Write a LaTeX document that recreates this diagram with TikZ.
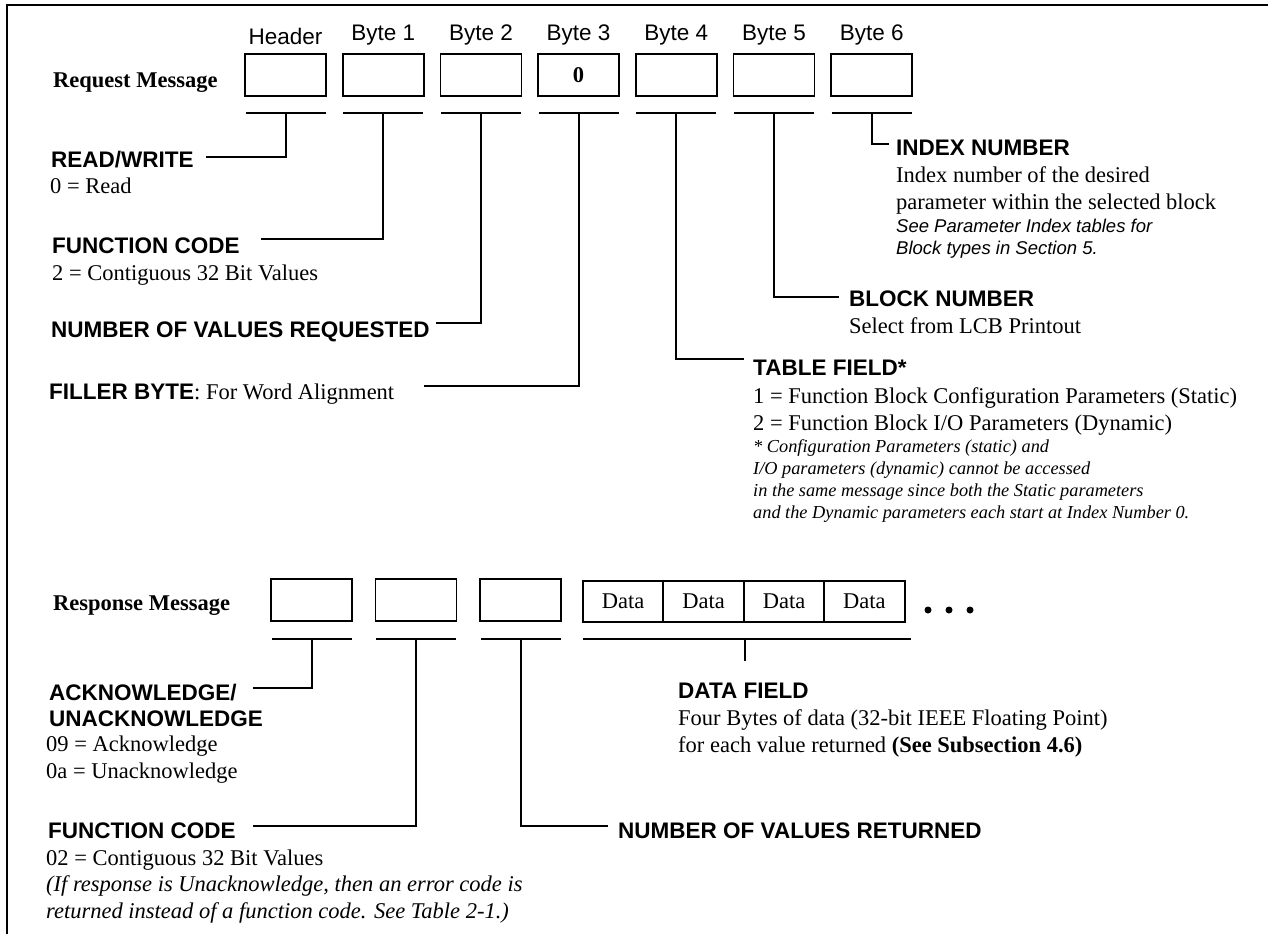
\documentclass[tikz,border=0pt]{standalone}
\usepackage{fontspec}
\setmainfont{Liberation Serif}
\setsansfont{Liberation Sans}
\usetikzlibrary{positioning}
\tikzset{cell/.style={draw,line width=1.8pt,minimum width=81pt,minimum height=42pt,inner sep=0pt},
dcell/.style={draw,line width=1.8pt,minimum width=80.5pt,minimum height=41pt,inner sep=0pt,font=\fontsize{22.5}{26}\selectfont},
lab/.style={font=\fontsize{22.5}{26}\selectfont\sffamily,inner sep=0pt,anchor=base},
msg/.style={font=\fontsize{22.5}{26}\selectfont\bfseries,inner sep=0pt,anchor=base west},
head/.style={font=\fontsize{22.5}{26}\selectfont\sffamily\bfseries,inner sep=0pt,anchor=base west},
body/.style={font=\fontsize{22.5}{26.5}\selectfont,inner sep=0pt,anchor=base west,align=left},
note/.style={font=\fontsize{18.3}{21.7}\selectfont\itshape,inner sep=0pt,anchor=base west,align=left},
snote/.style={font=\fontsize{18.5}{22}\selectfont\sffamily\itshape,inner sep=0pt,anchor=base west,align=left},
bar/.style={line width=2.5pt},
wire/.style={line width=2pt}}

\begin{document}
\begin{tikzpicture}[x=1pt,y=-1pt]
\useasboundingbox (0,0) rectangle (1268,934);
\draw[line width=2.5pt] (7,934) -- (7,5) -- (1268,5);

% request message
\node[msg] (rq) at (53,88) {Request Message};
\foreach \i/\t/\y in {0/Header/45,1/Byte 1/41,2/Byte 2/41,3/Byte 3/41,4/Byte 4/41,5/Byte 5/41,6/Byte 6/41}
{\node[cell] (q\i) at (285.5+97.7*\i,75) {};
\node[lab] (l\i) at (285.5+97.7*\i,\y) {\t};
\coordinate (t\i) at ([yshift=-16pt]q\i.south);
\draw[bar] ([xshift=-40pt]t\i) -- ([xshift=40pt]t\i);}
\node[font=\fontsize{22.5}{26}\selectfont\bfseries] (z) at (q3) {0};

% multi-line nodes sit on their last line
\node[head] (rw) at (51,167) {READ/WRITE};
\node[body] (rwb) at (50,193) {0 = Read};
\node[head] (fc) at (52,253) {FUNCTION CODE};
\node[body] (fcb) at (52,280) {2 = Contiguous 32 Bit Values};
\node[head] (nv) at (51,337) {NUMBER OF VALUES REQUESTED};
\node[body] (fb) at (49,399) {{\sffamily\bfseries FILLER BYTE}: For Word Alignment};

\node[head] (ix) at (896,155) {INDEX NUMBER};
\node[body] (ixb) at (896,209) {Index number of the desired\\parameter within the selected block};
\node[snote] (ixn) at (896,254) {See Parameter Index tables for\\Block types in Section 5.};
\node[head] (bn) at (849,306.7) {BLOCK NUMBER};
\node[body] (bnb) at (849,333) {Select from LCB Printout};
\node[head] (tf) at (753,375.7) {TABLE FIELD*};
\node[body] (tfb) at (753,430) {1 = Function Block Configuration Parameters (Static)\\[0.5pt]2 = Function Block I/O Parameters (Dynamic)};
\node[note] (tfn) at (753,518) {* Configuration Parameters (static) and\\I/O parameters (dynamic) cannot be accessed\\in the same message since both the Static parameters\\and the Dynamic parameters each start at Index Number 0.};

\draw[wire] (t0) |- ([xshift=12pt,yshift=10.3pt]rw.base east);
\draw[wire] (t1) |- ([xshift=21pt,yshift=14pt]fc.base east);
\draw[wire] (t2) |- ([xshift=6pt,yshift=13.7pt]nv.base east);
\draw[wire] (t3) |- ([xshift=30pt,yshift=13pt]fb.base east);
\draw[wire] (t4) |- ([xshift=-9pt,yshift=16.7pt]tf.base west);
\draw[wire] (t5) |- ([xshift=-10pt,yshift=9.4pt]bn.base west);
\draw[wire] (t6) |- ([xshift=-7.4pt,yshift=11pt]ix.base west);

% response message
\node[msg] (rs) at (53,610) {Response Message};
\foreach \i/\x in {1/311.6,2/415.9,3/520.8}
{\node[cell] (r\i) at (\x,600) {};
\coordinate (u\i) at ([yshift=-17.3pt]r\i.south);
\draw[bar] ([xshift=-40pt]u\i) -- ([xshift=40pt]u\i);}
\foreach \i in {1,...,4}
\node[dcell] (d\i) at (623.2+80.4*\i-80.4,601.2) {Data};
\foreach \x in {928,949,970}
\fill (\x,610) circle (3.5pt);
\coordinate (du) at ([yshift=-16.5pt]d2.south east);
\coordinate (dd) at ([yshift=-22pt]du);
\draw[bar] ([xshift=-162pt]du) -- ([xshift=166pt]du);
\draw[wire] (du) -- (dd);

\node[head] (ak) at (49,700) {ACKNOWLEDGE/};
\node[head] (ak2) at (49,726) {UNACKNOWLEDGE};
\node[body] (akb) at (46,778) {09 = Acknowledge\\0a = Unacknowledge};
\node[head] (fr) at (48,838) {FUNCTION CODE};
\node[body] (frb) at (46,918) {02 = Contiguous 32 Bit Values\\\textit{(If response is Unacknowledge, then an error code is}\\\textit{returned instead of a function code. See Table 2-1.)}};
\node[head] (nr) at (618,838) {NUMBER OF VALUES RETURNED};
\node[head] (df) at (678,698) {DATA FIELD};
\node[body] (dfb) at (678,752.7) {Four Bytes of data (32-bit IEEE Floating Point)\\[1pt]for each value returned \textbf{(See Subsection 4.6)}};

\draw[wire] (u1) |- ([xshift=16pt,yshift=12.3pt]ak.base east);
\draw[wire] (u2) |- ([xshift=17pt,yshift=12.3pt]fr.base east);
\draw[wire] (u3) |- ([xshift=-10pt,yshift=12pt]nr.base west);
\end{tikzpicture}
\end{document}
